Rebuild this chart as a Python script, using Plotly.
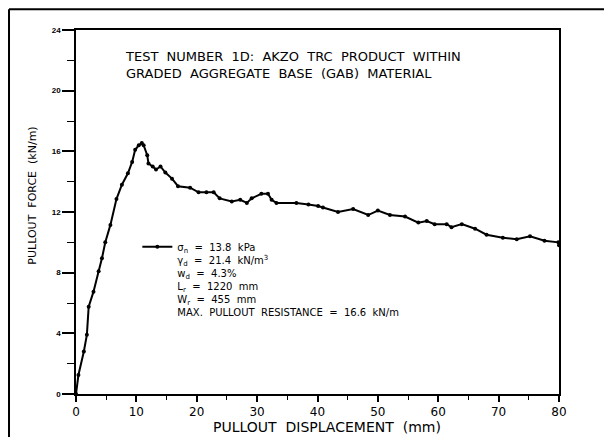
import plotly.graph_objects as go

# Pullout displacement (mm) and pullout force (kN/m)
displacement = [0.0, 0.4, 1.3, 1.8, 2.1, 2.9, 3.75, 4.3, 4.85, 5.7, 6.7, 7.6, 8.6, 9.3, 9.8,
                10.4, 10.9, 11.2, 11.8, 12.0, 12.7, 13.25, 14.0, 14.8, 15.9, 16.9, 18.9,
                20.3, 21.6, 22.8, 23.8, 25.8, 27.2, 28.3, 29.1, 30.7, 31.8, 32.4, 33.2,
                36.5, 38.5, 40.1, 40.9, 43.4, 45.9, 48.4, 50.0, 52.0, 54.5, 56.7, 58.1,
                59.4, 61.4, 62.2, 63.9, 66.1, 68.0, 70.7, 73.0, 75.2, 77.6, 79.9, 80.0]
force = [0.0, 1.25, 2.8, 3.9, 5.75, 6.75, 8.1, 8.95, 10.0, 11.15, 12.85, 13.8, 14.55, 15.3, 16.1,
         16.4, 16.55, 16.4, 15.75, 15.2, 15.0, 14.8, 15.0, 14.6, 14.2, 13.7, 13.6,
         13.3, 13.3, 13.3, 12.9, 12.7, 12.8, 12.6, 12.9, 13.2, 13.2, 12.8, 12.6,
         12.6, 12.5, 12.4, 12.3, 12.0, 12.2, 11.8, 12.1, 11.8, 11.7, 11.3, 11.4,
         11.2, 11.2, 11.0, 11.2, 10.9, 10.5, 10.3, 10.2, 10.4, 10.1, 10.0, 9.8]

x_ticks = [0, 10, 20, 30, 40, 50, 60, 70, 80]
y_ticks = [0, 4, 8, 12, 16, 20, 24]

title_lines = ["TEST  NUMBER  1D:  AKZO  TRC  PRODUCT  WITHIN",
               "GRADED  AGGREGATE  BASE  (GAB)  MATERIAL"]
legend_lines = ["σ<sub>n</sub>  =  13.8  kPa",
                "γ<sub>d</sub>  =  21.4  kN/m<sup>3</sup>",
                "w<sub>d</sub>  =  4.3%",
                "L<sub>r</sub>  =  1220  mm",
                "W<sub>r</sub>  =  455  mm",
                "MAX.  PULLOUT  RESISTANCE  =  16.6  kN/m"]

FONT = "DejaVu Sans"

fig = go.Figure()
fig.add_trace(go.Scatter(
    x=displacement, y=force, mode="lines+markers", name="<br>".join(legend_lines),
    line=dict(color="black", width=2),
    marker=dict(color="black", size=4),
))

annotations = [
    dict(x=7.8, y=21.7, xref="x", yref="y", text="<br>".join(title_lines),
         showarrow=False, xanchor="left", yanchor="middle", align="left",
         font=dict(family=FONT, size=13, color="black")),
    dict(x=0.52, y=-0.0907, xref="paper", yref="paper",
         text="PULLOUT  DISPLACEMENT  (mm)", showarrow=False,
         xanchor="center", yanchor="middle",
         font=dict(family=FONT, size=14, color="black")),
    dict(x=-0.089, y=0.545, xref="paper", yref="paper",
         text="PULLOUT  FORCE  (kN/m)", showarrow=False, textangle=-90,
         xanchor="center", yanchor="middle",
         font=dict(family=FONT, size=11, color="black")),
]

fig.update_layout(
    width=596, height=429,
    margin=dict(l=68, r=45, t=22, b=43),
    paper_bgcolor="white", plot_bgcolor="white",
    showlegend=True,
    legend=dict(x=0.127, y=0.44, xanchor="left", yanchor="top", valign="top",
                bgcolor="rgba(0,0,0,0)", font=dict(family=FONT, size=10, color="black")),
    annotations=annotations,
    shapes=[
        dict(type="line", xref="paper", yref="paper", x0=-0.1387, x1=-0.1387, y0=-0.2, y1=1.057,
             line=dict(color="black", width=2)),
        dict(type="line", xref="paper", yref="paper", x0=-0.1387, x1=1.2, y0=1.057, y1=1.057,
             line=dict(color="black", width=2)),
    ],
)

fig.update_xaxes(
    range=[0, 80], tickvals=x_ticks, ticktext=[str(v) for v in x_ticks],
    showgrid=False, zeroline=False,
    showline=True, linecolor="black", linewidth=1.5, mirror=True,
    ticks="outside", ticklen=6, tickwidth=1.5, tickcolor="black",
    minor=dict(dtick=5, tick0=0, ticks="outside", ticklen=4, tickwidth=1.2, tickcolor="black"),
    tickfont=dict(family=FONT, size=12, color="black"),
)
fig.update_yaxes(
    range=[0, 24], tickvals=y_ticks, ticktext=[str(v) for v in y_ticks],
    showgrid=False, zeroline=False,
    showline=True, linecolor="black", linewidth=1.5, mirror=True,
    ticks="outside", ticklen=12, tickwidth=1.5, tickcolor="black",
    minor=dict(dtick=2, tick0=0, ticks="outside", ticklen=7, tickwidth=1.2, tickcolor="black"),
    tickfont=dict(family="Liberation Sans", size=8, color="black", weight="bold"),
)

fig.write_html("out.html")
